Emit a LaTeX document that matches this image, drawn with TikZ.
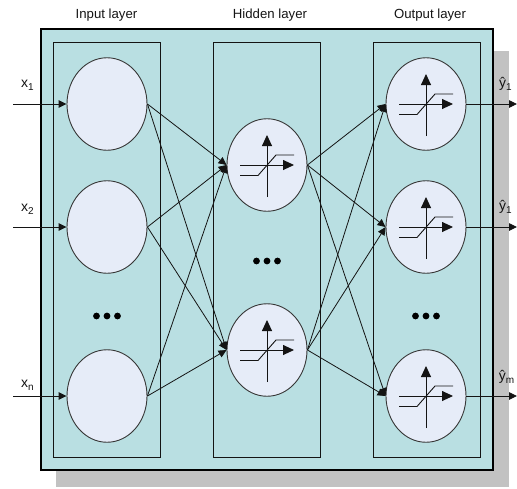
\documentclass[tikz,border=0pt]{standalone}
\usepackage{fontspec}
\setmainfont{Liberation Sans}
\usetikzlibrary{arrows.meta,shapes.geometric}
\definecolor{panel}{HTML}{B9DFE2}
\definecolor{shadowgray}{HTML}{C2C2C2}
\definecolor{cellfill}{HTML}{E6ECF8}
\definecolor{ink}{HTML}{141414}
\newcommand{\subs}[2]{#1\raisebox{-0.2em}{\fontsize{10pt}{11pt}\selectfont #2}}
\tikzset{
  x=1pt,y=-1pt,
  layerbox/.style={draw=ink,line width=0.9pt,fill=none},
  cell/.style={draw=ink!85,line width=0.9pt,fill=cellfill,ellipse,minimum width=80pt,minimum height=92.5pt,inner sep=0pt},
  link/.style={draw=ink,line width=0.8pt,-{Triangle[length=8pt,width=7.5pt]}},
  iolink/.style={draw=ink,line width=0.9pt,-{Triangle[length=8pt,width=7.5pt]}},
  head/.style={font=\fontsize{13.2pt}{15pt}\selectfont,inner sep=0pt,text=ink},
  iolabel/.style={font=\fontsize{14pt}{16pt}\selectfont,inner sep=0pt,text=ink},
  dotmark/.style={circle,fill=black,minimum size=6.8pt,inner sep=0pt},
  axis/.style={draw=ink,line width=0.9pt,-{Triangle[length=11pt,width=10pt]}},
  ramp/.style={draw=ink,line width=0.9pt},
  pics/activation/.style={code={
    \draw[axis] (0,32) -- (0,-30);
    \draw[axis] (-27,0) -- (27,0);
    \draw[ramp] (-27,10.5) -- (-9,10.5) -- (9,-10) -- (27,-10);
  }}
}
\begin{document}
\begin{tikzpicture}
\useasboundingbox (0,0) rectangle (517,488);
\fill[shadowgray] (56,51) rectangle (509,487);
\draw[fill=panel,draw=black,line width=2pt] (41,29) rectangle (493,470);
\draw[layerbox] (53.5,42.5) rectangle (160,457);
\draw[layerbox] (213.5,42.5) rectangle (320,457);
\draw[layerbox] (373.5,42.5) rectangle (480,457);

\node[head] (hi) at (106.5,15) {Input layer};
\node[head] (hh) at (270,15) {Hidden layer};
\node[head] (ho) at (430,15) {Output layer};

\node[cell] (i1) at (107,104) {};
\node[cell] (i2) at (107,227) {};
\node[cell] (i3) at (107,396) {};
\node[cell] (h1) at (267,165) {};
\node[cell] (h2) at (267,350) {};
\node[cell] (o1) at (426,104) {};
\node[cell] (o2) at (426,227) {};
\node[cell] (o3) at (426,396) {};

\foreach \n in {h1,h2,o1,o2,o3} { \pic at (\n) {activation}; }

\foreach \a in {i1,i2,i3} \foreach \b in {h1,h2} { \draw[link] (\a.east) -- (\b.west); }
\foreach \a in {h1,h2} \foreach \b in {o1,o2,o3} { \draw[link] (\a.east) -- (\b.west); }

\coordinate (a1) at (13,104);
\coordinate (a2) at (13,227);
\coordinate (a3) at (13,396);
\coordinate (b1) at (517,104);
\coordinate (b2) at (517,227);
\coordinate (b3) at (517,396);
\draw[iolink] (a1) -- (i1.west);
\draw[iolink] (a2) -- (i2.west);
\draw[iolink] (a3) -- (i3.west);
\draw[iolink] (o1.east) -- (b1);
\draw[iolink] (o2.east) -- (b2);
\draw[iolink] (o3.east) -- (b3);

\node[iolabel] (x1) at (27.5,85) {\subs{x}{1}};
\node[iolabel] (x2) at (27.5,209) {\subs{x}{2}};
\node[iolabel] (x3) at (27.5,385) {\subs{x}{n}};
\node[iolabel] (y1) at (505.5,84) {\subs{ŷ}{1}};
\node[iolabel] (y2) at (505.5,207) {\subs{ŷ}{1}};
\node[iolabel] (y3) at (506.5,377) {\subs{ŷ}{m}};

\foreach \c/\y in {107/316,267/261,426/316} {
  \node[dotmark] at (\c-10.5,\y) {};
  \node[dotmark] at (\c,\y) {};
  \node[dotmark] at (\c+10.5,\y) {};
}
\end{tikzpicture}
\end{document}
